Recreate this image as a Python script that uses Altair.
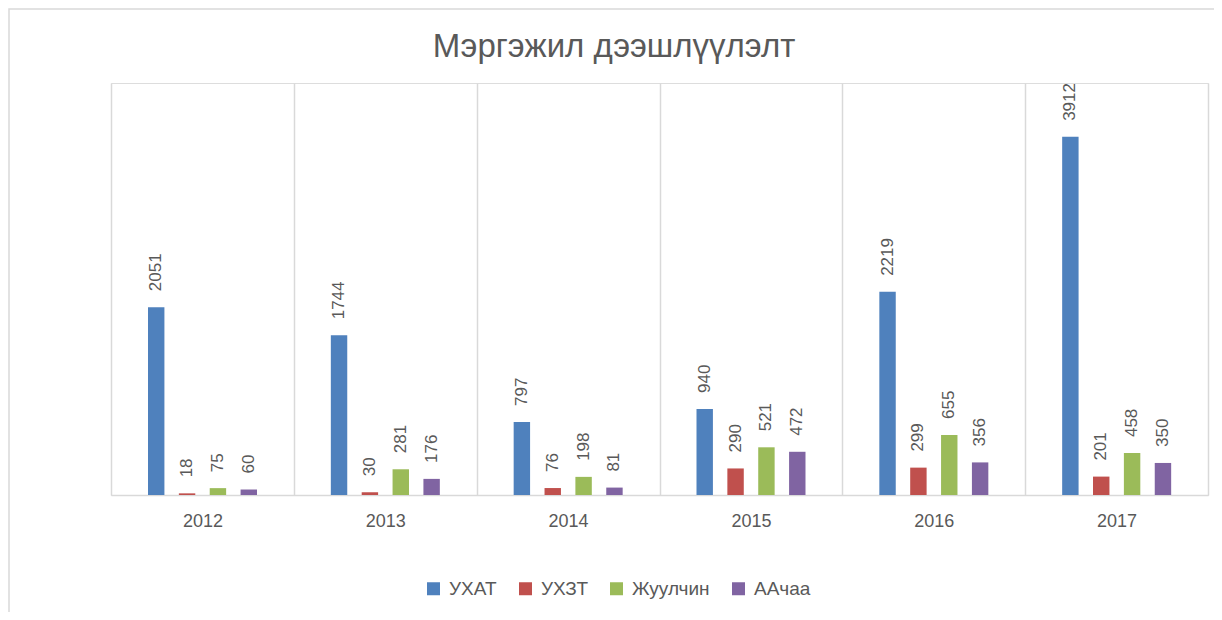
import altair as alt
import pandas as pd

title_text = ["Мэргэжил дээшлүүлэлт"]
years = ["2012", "2013", "2014", "2015", "2016", "2017"]
series = ["УХАТ", "УХЗТ", "Жуулчин", "ААчаа"]
uhat = [2051, 1744, 797, 940, 2219, 3912]
uhzt = [18, 30, 76, 290, 299, 201]
juulchin = [75, 281, 198, 521, 655, 458]
aachaa = [60, 176, 81, 472, 356, 350]
colors = ["#4F81BD", "#C0504D", "#9BBB59", "#8064A2"]

rows = []
for name, vals in zip(series, [uhat, uhzt, juulchin, aachaa]):
    for y, v in zip(years, vals):
        rows.append({"year": y, "series": name, "value": v})
df = pd.DataFrame(rows)

FONT = "Liberation Sans"
GRAY = "#595959"
LINE = "#D9D9D9"

x_enc = alt.X(
    "year:N",
    sort=years,
    title=None,
    scale=alt.Scale(paddingInner=0, paddingOuter=0),
    axis=alt.Axis(
        grid=True,
        gridColor=LINE,
        gridWidth=1.5,
        tickBand="extent",
        ticks=False,
        domainColor=LINE,
        domainWidth=1.5,
        labelAngle=0,
        labelFontSize=18,
        labelColor=GRAY,
        labelFont=FONT,
        labelPadding=26,
        labelBaseline="middle",
    ),
)
xo_enc = alt.XOffset(
    "series:N",
    sort=series,
    scale=alt.Scale(range=[37, 146], paddingInner=0.468, paddingOuter=0),
)
y_enc = alt.Y("value:Q", scale=alt.Scale(domain=[0, 4500]), axis=None)

base = alt.Chart(df)

bars = base.mark_bar().encode(
    x=x_enc,
    xOffset=xo_enc,
    y=y_enc,
    color=alt.Color(
        "series:N",
        sort=series,
        scale=alt.Scale(domain=series, range=colors),
        legend=alt.Legend(
            title=None,
            orient="none",
            legendX=313,
            legendY=496,
            direction="horizontal",
            symbolType="square",
            symbolSize=169,
            symbolStrokeWidth=0,
            labelFontSize=19,
            labelFont=FONT,
            labelColor=GRAY,
            labelOffset=6,
            columnPadding=19,
            padding=0,
        ),
    ),
)

labels = base.mark_text(
    angle=270,
    align="left",
    baseline="middle",
    dx=16,
    fontSize=17,
    font=FONT,
    color=GRAY,
).encode(
    x=x_enc,
    xOffset=xo_enc,
    y=y_enc,
    text=alt.Text("value:Q"),
)

border = alt.Chart(pd.DataFrame({"a": [0]})).mark_rect(
    fill="transparent", stroke=LINE, strokeWidth=1.5
).encode(
    x=alt.value(-102),
    x2=alt.value(1300),
    y=alt.value(-74),
    y2=alt.value(700),
)

title = alt.Chart(pd.DataFrame({"t": title_text})).mark_text(
    font=FONT,
    fontSize=33,
    color=GRAY,
    align="center",
    baseline="alphabetic",
).encode(
    text="t:N",
    x=alt.value(503),
    y=alt.value(-26),
)

chart = (
    alt.layer(border, bars, labels, title)
    .properties(
        width=1097,
        height=412,
        autosize=alt.AutoSizeParams(type="none"),
        padding={"left": 103, "top": 75, "right": 6, "bottom": 117},
    )
    .configure_view(strokeWidth=0)
    .configure(background="white")
)

chart.save("out.html", embed_options={"renderer": "svg", "actions": False})
